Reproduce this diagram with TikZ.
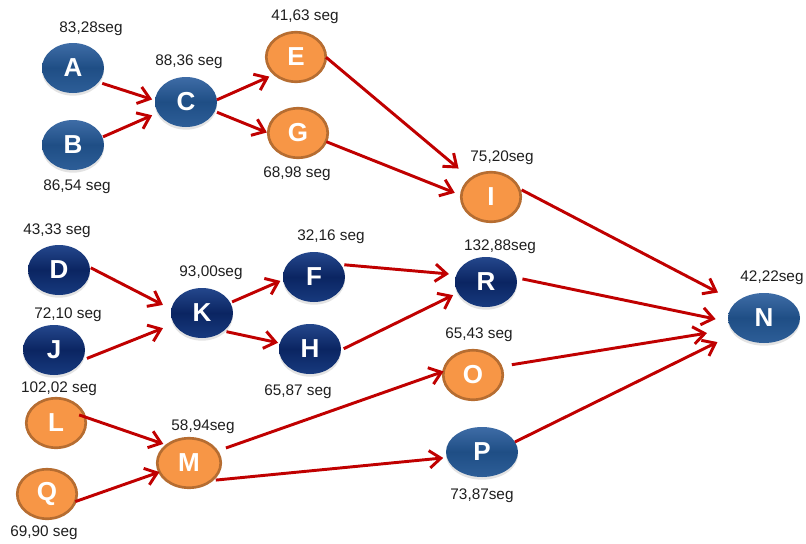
\documentclass[tikz,border=0pt]{standalone}
\usepackage{fontspec}
\setmainfont{Liberation Sans}
\usetikzlibrary{arrows.meta,shapes.geometric,shadows}
\definecolor{arrred}{HTML}{C00000}
\definecolor{orfill}{HTML}{F79646}
\definecolor{ordraw}{HTML}{B66D31}
\definecolor{mbtop}{HTML}{3E6CA6}
\definecolor{mbmid}{HTML}{1F4E85}
\definecolor{mbbot}{HTML}{2D5E98}
\definecolor{dbtop}{HTML}{24478C}
\definecolor{dbmid}{HTML}{0B2562}
\definecolor{dbbot}{HTML}{173A7E}
\begin{document}
\begin{tikzpicture}[x=0.75pt,y=-0.75pt,
  ball/.style={ellipse, outer sep=0pt, inner sep=0pt, text=white,
    font=\bfseries\fontsize{19.5}{21}\selectfont},
  blueball/.style={ball, minimum width=46.5pt, minimum height=37.5pt,
    drop shadow={opacity=0.22, shadow xshift=0pt, shadow yshift=-2pt}},
  midblue/.style={blueball, top color=mbtop, bottom color=mbbot, middle color=mbmid},
  darkblue/.style={blueball, top color=dbtop, bottom color=dbbot, middle color=dbmid},
  orangeball/.style={ball, fill=orfill, draw=ordraw, line width=2pt,
    minimum width=44.6pt, minimum height=37.1pt},
  lbl/.style={font=\fontsize{11.5}{13}\selectfont, text=black!88, inner sep=0pt},
  arr/.style={draw=arrred, line width=2.2pt, -{Straight Barb[length=8.5pt,width=13pt]}}
]
\fill[white] (0,0) rectangle (806,543);
\useasboundingbox (0,0) rectangle (806,543);

% nodes
\node[midblue] (A) at (73,68) {A};
\node[midblue] (B) at (73,145) {B};
\node[midblue] (C) at (186,102) {C};
\node[orangeball] (E) at (296,57) {E};
\node[orangeball] (G) at (298,133) {G};
\node[orangeball] (I) at (491,197) {I};
\node[darkblue] (D) at (59,270) {D};
\node[darkblue] (J) at (54,350) {J};
\node[darkblue] (K) at (202,313) {K};
\node[darkblue] (F) at (314,277) {F};
\node[darkblue] (H) at (310,349) {H};
\node[darkblue] (R) at (486,282) {R};
\node[midblue, minimum width=54pt] (N) at (764,318) {N};
\node[orangeball] (O) at (473,375) {O};
\node[orangeball] (L) at (56,423) {L};
\node[orangeball, minimum width=47.6pt] (M) at (189,463) {M};
\node[orangeball] (Q) at (47,494) {Q};
\node[midblue, minimum width=54pt] (P) at (482,452) {P};

% labels
\node[lbl] (lA) at (91,29) {83,28seg};
\node[lbl] (lC) at (189,62) {88,36 seg};
\node[lbl] (lE) at (305,17) {41,63 seg};
\node[lbl] (lB) at (77,187) {86,54 seg};
\node[lbl] (lG) at (297,174) {68,98 seg};
\node[lbl] (lD) at (57,231) {43,33 seg};
\node[lbl] (lJ) at (68,315) {72,10 seg};
\node[lbl] (lK) at (211,273) {93,00seg};
\node[lbl] (lF) at (331,237) {32,16 seg};
\node[lbl] (lH) at (298,392) {65,87 seg};
\node[lbl] (lL) at (59,389) {102,02 seg};
\node[lbl] (lM) at (203,427) {58,94seg};
\node[lbl] (lQ) at (44,533) {69,90 seg};
\node[lbl] (lI) at (502,158) {75,20seg};
\node[lbl] (lR) at (500,247) {132,88seg};
\node[lbl] (lN) at (772,278) {42,22seg};
\node[lbl] (lO) at (479,335) {65,43 seg};
\node[lbl] (lP) at (482,496) {73,87seg};

% connectors
\draw[arr, shorten <=2.9pt, shorten >=2.3pt] (A.-29) -- (C.177);
\draw[arr, shorten <=0.5pt, shorten >=4.8pt] (B.15) -- (C.201);
\draw[arr, shorten >=4.4pt] (C.4) -- (E.219);
\draw[arr, shorten <=1.8pt, shorten >=1.1pt] (C.-18) -- (G.180);
\draw[arr, shorten <=0.3pt, shorten >=12pt] (E.0) -- (I.138);
\draw[arr, shorten <=0.3pt, shorten >=5.3pt] (G.-17) -- (I.177);
\draw[arr, shorten <=2.3pt, shorten >=15.5pt] (I.17) -- (N.150);
\draw[arr, shorten <=4.5pt, shorten >=9.8pt] (R.8) -- (N.186);
\draw[arr, shorten <=8.3pt, shorten >=18.8pt] (O.17) -- (N.199);
\draw[arr, shorten >=15pt] (P.17) -- (N.208);
\draw[arr, shorten <=0.8pt, shorten >=7.1pt] (D.5) -- (K.173);
\draw[arr, shorten <=3.8pt, shorten >=8.9pt] (J.-20) -- (K.201);
\draw[arr, shorten <=1.5pt, shorten >=2.3pt] (K.20) -- (F.185);
\draw[arr, shorten <=2.3pt, shorten >=1.4pt] (K.-40) -- (H.169);
\draw[arr, shorten <=2.6pt, shorten >=5.6pt] (F.25) -- (R.166);
\draw[arr, shorten <=2.3pt, shorten >=4.1pt] (H.-2) -- (R.201);
\draw[arr, shorten <=-4.5pt, shorten >=2.9pt] (L.12) -- (M.141);
\draw[arr] (Q.-15) -- (M.197);
\draw[arr, shorten <=7.2pt] (M.23) -- (O.173);
\draw[arr, shorten <=3.3pt, shorten >=2.8pt] (M.-38) -- (P.189);
\end{tikzpicture}
\end{document}
